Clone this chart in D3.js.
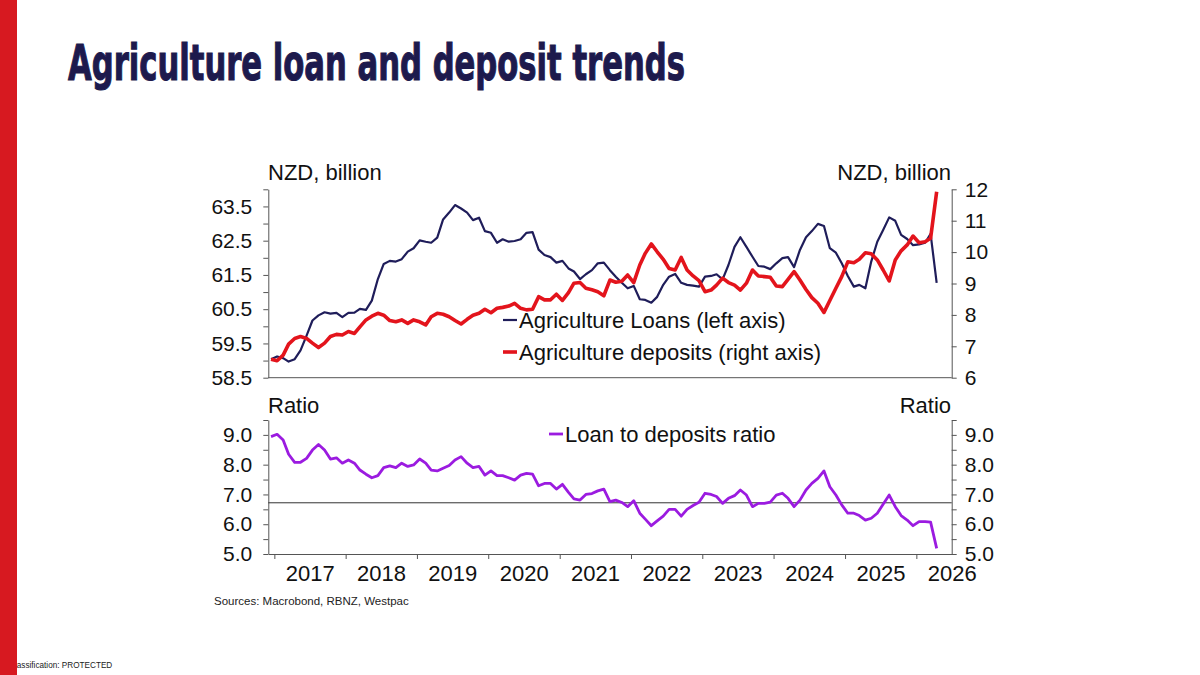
<!DOCTYPE html>
<html>
<head>
<meta charset="utf-8">
<script src="https://cdn.jsdelivr.net/npm/d3@7"></script>
<style>
html, body { margin: 0; padding: 0; background: #fff; }
svg { display: block; font-family: "Liberation Sans", Arial, sans-serif; }
</style>
</head>
<body>
<svg id="chart" width="1200" height="675"></svg>
<script>
// monthly data, Dec 2016 .. Apr 2026
const firstMonth = "2016-12";

// Agriculture loans, NZD bn (left axis)
const loans = [59.04,59.12,59.07,58.97,59.04,59.3,59.73,60.17,60.32,60.41,60.37,60.39,60.27,60.39,60.4,60.51,60.48,60.75,61.38,61.82,
  61.91,61.89,61.96,62.18,62.28,62.51,62.47,62.44,62.59,63.12,63.32,63.54,63.44,63.32,63.1,63.17,62.78,62.73,62.44,62.54,
  62.47,62.49,62.54,62.73,62.75,62.24,62.08,62.02,61.86,61.91,61.69,61.6,61.38,61.52,61.64,61.84,61.86,61.64,61.45,61.27,
  61.11,61.18,60.79,60.77,60.69,60.86,61.21,61.45,61.53,61.27,61.21,61.19,61.16,61.45,61.47,61.52,61.37,61.79,62.32,62.6,
  62.32,62.03,61.76,61.74,61.67,61.84,61.99,62.02,61.73,62.23,62.6,62.78,62.99,62.93,62.28,62.15,61.84,61.47,61.16,61.21,
  61.11,61.89,62.47,62.81,63.18,63.08,62.67,62.55,62.37,62.39,62.44,62.7,61.27];

// Agriculture deposits, NZD bn (right axis)
const deposits = [6.59,6.54,6.72,7.07,7.25,7.31,7.25,7.1,6.96,7.1,7.31,7.38,7.36,7.47,7.41,7.62,7.84,7.96,8.05,7.99,
  7.82,7.78,7.84,7.73,7.84,7.78,7.68,7.94,8.05,8.02,7.94,7.82,7.71,7.86,7.99,8.05,8.18,8.07,8.21,8.24,
  8.28,8.37,8.21,8.16,8.18,8.58,8.48,8.48,8.66,8.46,8.71,9.01,9.03,8.85,8.8,8.74,8.61,9.11,9.04,9.07,
  9.27,9.03,9.59,9.96,10.26,10.01,9.77,9.48,9.43,9.83,9.43,9.24,9.09,8.74,8.79,8.95,9.17,9.03,8.95,8.79,
  9.01,9.43,9.24,9.22,9.2,8.92,8.9,9.13,9.38,9.11,8.81,8.55,8.37,8.08,8.46,8.85,9.22,9.69,9.66,9.77,
  9.98,9.95,9.75,9.43,9.08,9.75,10.04,10.23,10.51,10.3,10.33,10.44,11.92];

// Loan to deposits ratio
const ratio = [8.94,9.02,8.83,8.35,8.08,8.08,8.21,8.49,8.68,8.49,8.19,8.23,8.05,8.16,8.05,7.82,7.68,7.56,7.63,7.9,
  7.96,7.9,8.05,7.94,7.99,8.19,8.05,7.82,7.79,7.88,7.97,8.16,8.27,8.05,7.9,7.94,7.65,7.79,7.63,7.63,
  7.56,7.48,7.65,7.71,7.68,7.29,7.37,7.37,7.18,7.34,7.07,6.85,6.81,7.0,7.03,7.12,7.18,6.76,6.81,6.73,
  6.59,6.79,6.37,6.17,5.95,6.11,6.27,6.5,6.5,6.27,6.5,6.63,6.74,7.04,7.0,6.93,6.7,6.87,6.96,7.15,
  6.98,6.59,6.7,6.7,6.74,6.98,7.04,6.87,6.59,6.81,7.15,7.37,7.54,7.79,7.26,6.98,6.65,6.37,6.37,6.29,
  6.14,6.2,6.37,6.67,6.98,6.59,6.29,6.14,5.95,6.09,6.09,6.07,5.19];
const ratioAverage = 6.72;

// tick labels
const years = ["2017","2018","2019","2020","2021","2022","2023","2024","2025","2026"];
const leftTicks = [58.5, 59.5, 60.5, 61.5, 62.5, 63.5];
const rightTicks = [6, 7, 8, 9, 10, 11, 12];
const ratioTicks = [5, 6, 7, 8, 9];

// colours
const navy = "#1f1d5a", red = "#e3141c", purple = "#9b1be0", axisCol = "#555";

const svg = d3.select('#chart');

// dates, plotted mid-month
const parseMonth = d3.timeParse('%Y-%m');
const dates = loans.map((d, i) => d3.timeDay.offset(d3.timeMonth.offset(parseMonth(firstMonth), i), 14));

// scales
const x = d3.scaleTime()
    .domain([new Date(2016, 11, 1), new Date(2026, 6, 1)])
    .range([268.3, 951.7]);
const yL = d3.scaleLinear().domain([58.5, 64]).range([377.7, 189.3]);
const yR = d3.scaleLinear().domain([6, 12]).range([377.7, 189.3]);
const yB = d3.scaleLinear().domain([5, 9.5]).range([554, 420]);

function styleAxis(g, size) {
    g.selectAll('path, line').attr('stroke', axisCol).attr('stroke-width', 1);
    g.selectAll('text').attr('fill', '#111').attr('font-size', size || 21);
}

// ---- top panel axes
svg.append('g')
    .attr('transform', 'translate(' + x.range()[0] + ',0)')
    .call(d3.axisLeft(yL)
        .tickValues(d3.range(58.5, 64.01, 0.5))
        .tickSize(5).tickSizeOuter(0).tickPadding(11)
        .tickFormat(d => leftTicks.includes(d) ? d.toFixed(1) : ''))
    .call(g => styleAxis(g));

svg.append('g')
    .attr('transform', 'translate(' + x.range()[1] + ',0)')
    .call(d3.axisRight(yR)
        .tickValues(rightTicks)
        .tickSize(5).tickSizeOuter(0).tickPadding(8)
        .tickFormat(d3.format('d')))
    .call(g => styleAxis(g));

svg.append('line')
    .attr('x1', x.range()[0]).attr('x2', x.range()[1])
    .attr('y1', yL(58.5)).attr('y2', yL(58.5))
    .attr('stroke', axisCol).attr('stroke-width', 1);

// ---- bottom panel axes
svg.append('g')
    .attr('transform', 'translate(' + x.range()[0] + ',0)')
    .call(d3.axisLeft(yB)
        .tickValues(d3.range(5, 9.51, 0.5))
        .tickSize(5).tickSizeOuter(0).tickPadding(11)
        .tickFormat(d => ratioTicks.includes(d) ? d.toFixed(1) : ''))
    .call(g => styleAxis(g));

svg.append('g')
    .attr('transform', 'translate(' + x.range()[1] + ',0)')
    .call(d3.axisRight(yB)
        .tickValues(d3.range(5, 9.51, 0.5))
        .tickSize(5).tickSizeOuter(0).tickPadding(8)
        .tickFormat(d => ratioTicks.includes(d) ? d.toFixed(1) : ''))
    .call(g => styleAxis(g));

// year boundary ticks
svg.append('g')
    .attr('transform', 'translate(0,' + yB(5) + ')')
    .call(d3.axisBottom(x)
        .tickValues(years.map(y => new Date(+y, 0, 1)))
        .tickSize(5).tickSizeOuter(0).tickFormat(''))
    .call(g => styleAxis(g));

// year labels, centred mid-year
svg.append('g')
    .attr('transform', 'translate(0,' + yB(5) + ')')
    .call(d3.axisBottom(x)
        .tickValues(years.map(y => new Date(+y, 6, 1)))
        .tickSize(0).tickPadding(11)
        .tickFormat(d3.timeFormat('%Y')))
    .call(g => g.select('.domain').remove())
    .call(g => styleAxis(g, 22));

// average line
svg.append('line')
    .attr('x1', x.range()[0]).attr('x2', x.range()[1])
    .attr('y1', yB(ratioAverage)).attr('y2', yB(ratioAverage))
    .attr('stroke', '#333').attr('stroke-width', 1);

// ---- series
const lineL = d3.line().x((d, i) => x(dates[i])).y(d => yL(d));
const lineR = d3.line().x((d, i) => x(dates[i])).y(d => yR(d));
const lineB = d3.line().x((d, i) => x(dates[i])).y(d => yB(d));

svg.append('path').datum(loans)
    .attr('d', lineL).attr('fill', 'none')
    .attr('stroke', navy).attr('stroke-width', 2.2).attr('stroke-linejoin', 'round');

svg.append('path').datum(deposits)
    .attr('d', lineR).attr('fill', 'none')
    .attr('stroke', red).attr('stroke-width', 3.6).attr('stroke-linejoin', 'round');

svg.append('path').datum(ratio)
    .attr('d', lineB).attr('fill', 'none')
    .attr('stroke', purple).attr('stroke-width', 2.8).attr('stroke-linejoin', 'round');

// ---- legends
const legend = [
    {label: 'Agriculture Loans (left axis)', color: navy, w: 2.2, x: 503, y: 320},
    {label: 'Agriculture deposits (right axis)', color: red, w: 3.6, x: 503, y: 352},
    {label: 'Loan to deposits ratio', color: purple, w: 2.8, x: 549, y: 434}
];
legend.forEach(l => {
    svg.append('line')
        .attr('x1', l.x).attr('x2', l.x + 14)
        .attr('y1', l.y).attr('y2', l.y)
        .attr('stroke', l.color).attr('stroke-width', l.w);
    svg.append('text')
        .attr('x', l.x + 16).attr('y', l.y)
        .attr('dy', '0.35em')
        .attr('font-size', 22).attr('fill', '#111')
        .text(l.label);
});

// ---- unit labels
const units = [
    {t: 'NZD, billion', x: 268, y: 172, a: 'start'},
    {t: 'NZD, billion', x: 951, y: 172, a: 'end'},
    {t: 'Ratio', x: 268, y: 405, a: 'start'},
    {t: 'Ratio', x: 951, y: 405, a: 'end'}
];
units.forEach(u => {
    svg.append('text')
        .attr('x', u.x).attr('y', u.y).attr('dy', '0.35em')
        .attr('text-anchor', u.a)
        .attr('font-size', 22).attr('fill', '#111')
        .text(u.t);
});

// sources
svg.append('text')
    .attr('x', 214).attr('y', 601).attr('dy', '0.35em')
    .attr('font-size', 11.5).attr('fill', '#222')
    .text('Sources: Macrobond, RBNZ, Westpac');

// classification footer (partly under the red bar)
svg.append('text')
    .attr('x', 9).attr('y', 668)
    .attr('font-size', 8.2).attr('fill', '#222')
    .text('Classification: PROTECTED');

// red side bar
svg.append('rect')
    .attr('x', 0).attr('y', 0).attr('width', 17).attr('height', 675)
    .attr('fill', '#d71920');

// title
svg.append('text')
    .attr('x', 68).attr('y', 80)
    .attr('font-family', '"Liberation Sans Narrow", "DejaVu Sans Condensed", "Liberation Sans", sans-serif')
    .attr('font-weight', 'bold')
    .attr('font-size', 50)
    .attr('textLength', 617).attr('lengthAdjust', 'spacingAndGlyphs')
    .attr('fill', '#1d1a4d').attr('stroke', '#1d1a4d').attr('stroke-width', 1.1)
    .text('Agriculture loan and deposit trends');
</script>
</body>
</html>
